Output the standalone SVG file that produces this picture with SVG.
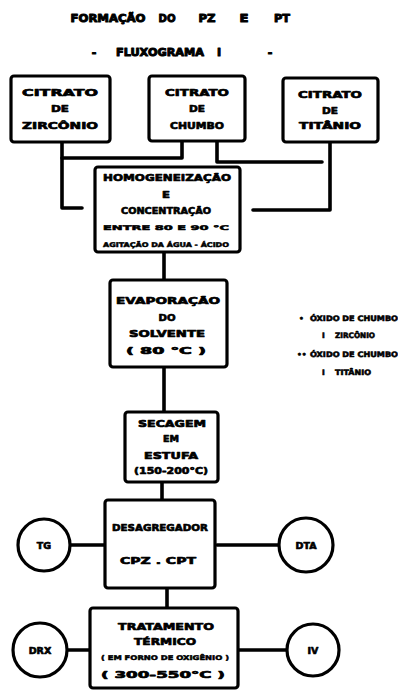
<svg xmlns="http://www.w3.org/2000/svg" width="398" height="692" viewBox="0 0 398 692">
<style>
  .bx { fill: #fff; stroke: #000; stroke-width: 3.2; }
  .cn { fill: none; stroke: #000; stroke-width: 3.6; stroke-linecap: round; stroke-linejoin: round; }
  .ci { fill: #fff; stroke: #000; stroke-width: 3.2; }
  text { font-family: "DejaVu Sans", "Liberation Sans", sans-serif; font-weight: bold; fill: #000; stroke: #000; stroke-width: 0.7; stroke-linejoin: round; text-anchor: middle; }
  .t { font-size: 9.5px; }
  .s { font-size: 6.5px; stroke-width: 0.5; }
  .l { font-size: 7.5px; stroke-width: 0.6; text-anchor: start; }
  .h { font-size: 11px; stroke-width: 1; }
</style>
<rect width="398" height="692" fill="#fff"/>

<g id="title">
  <text class="h" x="108" y="22" textLength="75" lengthAdjust="spacingAndGlyphs">FORMAÇÃO</text>
  <text class="h" x="167" y="22" textLength="17" lengthAdjust="spacingAndGlyphs">DO</text>
  <text class="h" x="207" y="22" textLength="17" lengthAdjust="spacingAndGlyphs">PZ</text>
  <text class="h" x="244" y="22" textLength="9" lengthAdjust="spacingAndGlyphs">E</text>
  <text class="h" x="282" y="22" textLength="16" lengthAdjust="spacingAndGlyphs">PT</text>
  <text class="h" x="94" y="56">-</text>
  <text class="h" x="160" y="56" textLength="88" lengthAdjust="spacingAndGlyphs">FLUXOGRAMA</text>
  <text class="h" x="219" y="56">I</text>
  <text class="h" x="270" y="56">-</text>
</g>

<g id="connectors">
  <path class="cn" d="M62,142 V208 H82"/>
  <path class="cn" d="M62,158 H182 V142"/>
  <path class="cn" d="M217,142 V162 H322"/>
  <path class="cn" d="M330,142 V210 H253"/>
  <path class="cn" d="M164,252 V280"/>
  <path class="cn" d="M164,367 V412"/>
  <path class="cn" d="M162,482 V500"/>
  <path class="cn" d="M70,545 H105"/>
  <path class="cn" d="M217,545 H280"/>
  <path class="cn" d="M167,588 V608"/>
  <path class="cn" d="M67,650 H90"/>
  <path class="cn" d="M238,650 H287"/>
</g>

<g id="zirconio">
  <rect class="bx" x="11" y="76" width="99" height="66" rx="3"/>
  <text class="t" x="60" y="96" textLength="76" lengthAdjust="spacingAndGlyphs">CITRATO</text>
  <text class="t" x="60" y="112" textLength="18" lengthAdjust="spacingAndGlyphs">DE</text>
  <text class="t" x="60" y="129" textLength="76" lengthAdjust="spacingAndGlyphs">ZIRCÔNIO</text>
</g>

<g id="chumbo">
  <rect class="bx" x="149" y="76" width="96" height="65" rx="3"/>
  <text class="t" x="197" y="96" textLength="64" lengthAdjust="spacingAndGlyphs">CITRATO</text>
  <text class="t" x="197" y="112" textLength="16" lengthAdjust="spacingAndGlyphs">DE</text>
  <text class="t" x="197" y="129" textLength="54" lengthAdjust="spacingAndGlyphs">CHUMBO</text>
</g>

<g id="titanio">
  <rect class="bx" x="283" y="78" width="95" height="64" rx="3"/>
  <text class="t" x="330" y="98" textLength="64" lengthAdjust="spacingAndGlyphs">CITRATO</text>
  <text class="t" x="330" y="114" textLength="16" lengthAdjust="spacingAndGlyphs">DE</text>
  <text class="t" x="330" y="129" textLength="62" lengthAdjust="spacingAndGlyphs">TITÂNIO</text>
</g>

<g id="homogeneizacao">
  <rect class="bx" x="95" y="167" width="145" height="85" rx="3"/>
  <text class="t" x="167" y="181" textLength="128" lengthAdjust="spacingAndGlyphs">HOMOGENEIZAÇÃO</text>
  <text class="t" x="166" y="198" textLength="8" lengthAdjust="spacingAndGlyphs">E</text>
  <text class="t" x="166" y="214" textLength="90" lengthAdjust="spacingAndGlyphs">CONCENTRAÇÃO</text>
  <text class="s" x="166" y="230" textLength="126" lengthAdjust="spacingAndGlyphs">ENTRE 80 E 90 °C</text>
  <text class="s" x="166" y="247" textLength="126" lengthAdjust="spacingAndGlyphs">AGITAÇÃO DA ÁGUA - ÁCIDO</text>
</g>

<g id="evaporacao">
  <rect class="bx" x="110" y="280" width="117" height="87" rx="3"/>
  <text class="t" x="168" y="304" textLength="104" lengthAdjust="spacingAndGlyphs">EVAPORAÇÃO</text>
  <text class="t" x="167" y="321" textLength="17" lengthAdjust="spacingAndGlyphs">DO</text>
  <text class="t" x="167" y="337" textLength="76" lengthAdjust="spacingAndGlyphs">SOLVENTE</text>
  <text class="t" x="166" y="354" textLength="80" lengthAdjust="spacingAndGlyphs">( 80 °C )</text>
</g>

<g id="secagem">
  <rect class="bx" x="125" y="412" width="93" height="70" rx="3"/>
  <text class="t" x="172" y="427" textLength="68" lengthAdjust="spacingAndGlyphs">SECAGEM</text>
  <text class="t" x="171" y="442" textLength="16" lengthAdjust="spacingAndGlyphs">EM</text>
  <text class="t" x="171" y="459" textLength="54" lengthAdjust="spacingAndGlyphs">ESTUFA</text>
  <text class="t" x="171" y="474" textLength="74" lengthAdjust="spacingAndGlyphs">(150-200°C)</text>
</g>

<g id="desagregador">
  <rect class="bx" x="105" y="500" width="110" height="88" rx="3"/>
  <text class="t" x="160" y="531" textLength="96" lengthAdjust="spacingAndGlyphs">DESAGREGADOR</text>
  <text class="t" x="158" y="564" textLength="76" lengthAdjust="spacingAndGlyphs">CPZ . CPT</text>
</g>

<g id="tg">
  <circle class="ci" cx="44" cy="545" r="26"/>
  <text class="t" x="44" y="549">TG</text>
</g>

<g id="dta">
  <circle class="ci" cx="306" cy="545" r="27"/>
  <text class="t" x="306" y="549">DTA</text>
</g>

<g id="tratamento">
  <rect class="bx" x="90" y="608" width="148" height="80" rx="3"/>
  <text class="t" x="166" y="630" textLength="96" lengthAdjust="spacingAndGlyphs">TRATAMENTO</text>
  <text class="t" x="165" y="645" textLength="62" lengthAdjust="spacingAndGlyphs">TÉRMICO</text>
  <text class="s" x="165" y="660" textLength="128" lengthAdjust="spacingAndGlyphs">( EM FORNO DE OXIGÊNIO )</text>
  <text class="t" x="163" y="678" textLength="124" lengthAdjust="spacingAndGlyphs">( 300-550°C )</text>
</g>

<g id="drx">
  <circle class="ci" cx="40" cy="650" r="27"/>
  <text class="t" x="40" y="654">DRX</text>
</g>

<g id="iv">
  <circle class="ci" cx="313" cy="650" r="26"/>
  <text class="t" x="313" y="654">IV</text>
</g>

<g id="legend">
  <text class="l" x="299" y="321">•</text>
  <text class="l" x="310" y="321" textLength="88" lengthAdjust="spacingAndGlyphs">ÓXIDO DE CHUMBO</text>
  <text class="l" x="322" y="338">I</text>
  <text class="l" x="335" y="338" textLength="40" lengthAdjust="spacingAndGlyphs">ZIRCÔNIO</text>
  <text class="l" x="297" y="357">••</text>
  <text class="l" x="310" y="357" textLength="88" lengthAdjust="spacingAndGlyphs">ÓXIDO DE CHUMBO</text>
  <text class="l" x="322" y="375">I</text>
  <text class="l" x="335" y="375" textLength="36" lengthAdjust="spacingAndGlyphs">TITÂNIO</text>
</g>
</svg>
